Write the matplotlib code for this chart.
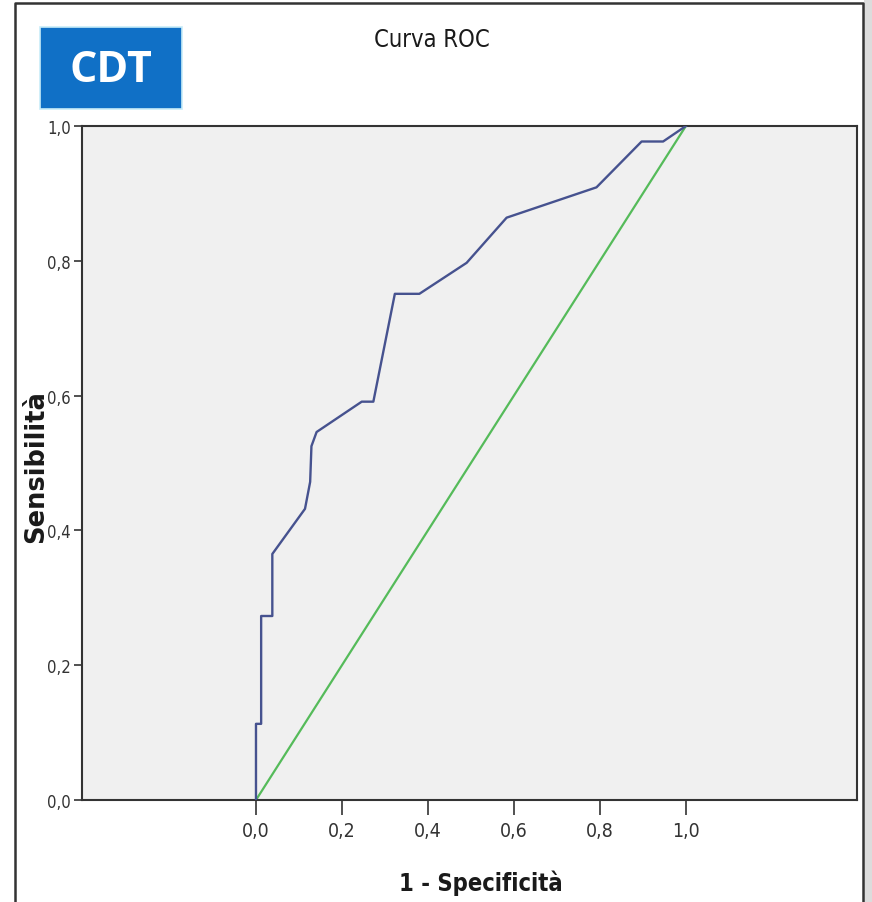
import matplotlib.pyplot as plt
from matplotlib.patches import Rectangle
from matplotlib.lines import Line2D

# ROC curve points
fpr = [0.0, 0.0, 0.012, 0.012, 0.038, 0.038, 0.114, 0.126, 0.129, 0.141,
       0.246, 0.273, 0.323, 0.380, 0.490, 0.583, 0.792, 0.897, 0.947, 1.0]
tpr = [0.0, 0.113, 0.113, 0.273, 0.273, 0.365, 0.432, 0.472, 0.525, 0.546,
       0.591, 0.591, 0.751, 0.751, 0.797, 0.864, 0.909, 0.977, 0.977, 1.0]
ref_line = [0.0, 1.0]
ticks = [0.0, 0.2, 0.4, 0.6, 0.8, 1.0]
tick_labels = ['0,0', '0,2', '0,4', '0,6', '0,8', '1,0']

narrow = dict(family='DejaVu Sans', fontstretch='condensed')

fig = plt.figure(figsize=(8.72, 9.03), dpi=100)
ax = fig.add_axes([82 / 872, 1 - 801 / 903, 775 / 872, 674 / 903])
ax.set_facecolor('#f0f0f0')

ax.plot(fpr, tpr, color='#46528f', lw=1.7, zorder=3)
ax.plot(ref_line, ref_line, color='#55bb5a', lw=1.6, zorder=2)

ax.set_xlim(-0.4047, 1.398)
ax.set_ylim(0, 1)
ax.set_xticks(ticks)
ax.set_xticklabels(tick_labels)
ax.set_yticks(ticks)
ax.set_yticklabels(tick_labels)
ax.tick_params(direction='out', width=1.2, color='#333333', labelcolor='#333333')
ax.tick_params(axis='x', length=11, labelsize=14, pad=4)
ax.tick_params(axis='y', length=6, labelsize=12, pad=2)
for lab in ax.get_xticklabels() + ax.get_yticklabels():
    lab.set_fontstretch('condensed')
for sp in ax.spines.values():
    sp.set_color('#333333')
    sp.set_linewidth(1.5)

ax.set_xlabel('1 - Specificità', fontsize=17, fontweight='bold',
              color='#1a1a1a', **narrow)
ax.xaxis.set_label_coords((481 - 82) / 775, -(883 - 801) / 674)
ax.xaxis.label.set_va('center')
ax.set_ylabel('Sensibilità', fontsize=18.5, fontweight='bold', color='#1a1a1a')
ax.yaxis.set_label_coords(-(82 - 36) / 775, (801 - 467) / 674)
ax.yaxis.label.set_va('center')

fig.text(432 / 872, 1 - 40 / 903, 'Curva ROC', fontsize=17,
         color='#1a1a1a', ha='center', va='center', **narrow)

# CDT badge
fig.patches.append(Rectangle((40 / 872, 1 - 110 / 903), 142 / 872, 82 / 903,
                             transform=fig.transFigure, facecolor='#1070c6',
                             edgecolor='#c8ecf8', lw=1.2))
fig.text(111 / 872, 1 - 70 / 903, 'CDT', family=['Open Sans', 'DejaVu Sans'],
         fontsize=31, fontweight='bold', color='white', ha='center', va='center')

# outer frame and grey strip at the right edge
fig.patches.append(Rectangle((864 / 872, 0), 8 / 872, 1, transform=fig.transFigure,
                             facecolor='#dcdcdc', edgecolor='none'))
fig.lines.append(Line2D([15 / 872, 15 / 872, 863 / 872, 863 / 872],
                        [0, 1 - 4 / 903, 1 - 4 / 903, 0],
                        transform=fig.transFigure, color='#333333', lw=1.8))

fig.savefig('out.png', dpi=100)
